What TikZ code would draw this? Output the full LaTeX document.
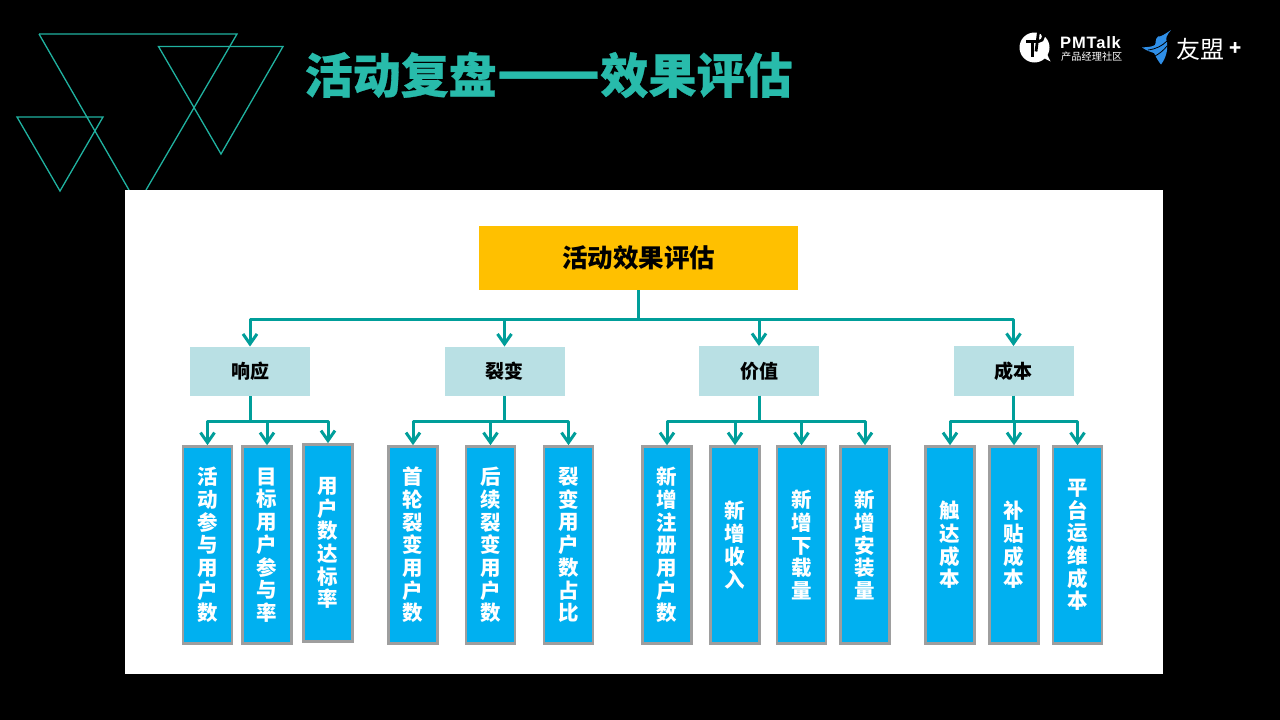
\documentclass[tikz,border=0pt]{standalone}
\usepackage{fontspec}
\setmainfont{Noto Sans CJK SC}
\newfontfamily\latinb{Liberation Sans}
\usetikzlibrary{arrows.meta}
\definecolor{teal1}{HTML}{28BBAB}
\definecolor{tril}{HTML}{20B2A0}
\definecolor{link}{HTML}{009E9A}
\definecolor{leaf}{HTML}{00B0F0}
\definecolor{midbox}{HTML}{B9E0E4}
\definecolor{rootbox}{HTML}{FFC000}
\definecolor{bird}{HTML}{2F8FE8}
\tikzset{
  tri/.style={draw=tril,line width=1.3pt,line join=miter},
  rootnode/.style={fill=rootbox,minimum width=319pt,minimum height=64pt,inner sep=0pt,font=\fontsize{25.5}{28}\selectfont\bfseries},
  midnode/.style={fill=midbox,minimum width=120pt,minimum height=49.5pt,inner sep=0pt,font=\fontsize{19}{22}\selectfont\bfseries},
  leafnode/.style={fill=leaf,draw=black!38,line width=2.6pt,minimum width=49pt,minimum height=197pt,inner sep=0pt,text=white,align=center,font=\fontsize{20.5}{22.7}\selectfont\bfseries},
  arr/.style={draw=link,line width=3pt,line join=round,-{Straight Barb[length=10pt,width=14pt,line width=3pt]}},
}
\begin{document}
\begin{tikzpicture}[x=1pt,y=-1pt]
\useasboundingbox (0,0) rectangle (1280,720);
\fill[black] (0,0) rectangle (1280,720);
% triangles
\draw[tri] (39,34) -- (237,34) -- (146,190);
\draw[tri] (39,34) -- (129,190);
\draw[tri] (158.5,46.5) -- (283,46.5) -- (221,154) -- cycle;
\draw[tri] (17,117) -- (103,117) -- (60,191) -- cycle;
% title
\node[anchor=west,inner sep=0pt,text=teal1,font=\fontsize{48}{52}\selectfont\bfseries] (title) at (304.5,75) {\addfontfeature{FakeBold=0.6}活动复盘\scalebox{1.26}[1.3]{——}效果评估};
% logo PMTalk
\fill[white] (1034.5,47.5) circle (15);
\fill[white] (1040,56) -- (1050.5,61.5) -- (1046,52) -- cycle;
\draw[black,line width=2.8pt] (1026,41.5) -- (1038.5,41.5) arc (90:-90:5) -- (1036,51.5);
\draw[black,line width=3.2pt] (1032.5,41.5) -- (1032.5,56.5);
\node[anchor=west,inner sep=0pt,text=white,font=\latinb\fontsize{16.5}{18}\selectfont\bfseries] (pmt) at (1060,43) {\addfontfeature{LetterSpace=5}PMTalk};
\node[anchor=west,inner sep=0pt,text=white,font=\fontsize{10.2}{12}\selectfont] (pmsub) at (1061,57) {产品经理社区};
% logo bird
\fill[bird] (1171,30) .. controls (1165,34) and (1161,37) .. (1158,36.5) .. controls (1155,39) and (1156,43) .. (1155,45)
  .. controls (1152,47) and (1147,47) .. (1142,47.5) .. controls (1147,51) and (1151,52) .. (1154,53)
  .. controls (1156,57) and (1158,61) .. (1161,64.5) .. controls (1166,58) and (1168,50) .. (1167,42)
  .. controls (1165,38) and (1167,35) .. (1171,30) -- cycle;
\draw[black,line width=0.8pt] (1148,50) .. controls (1156,49) and (1162,46) .. (1167,41);
\draw[black,line width=0.8pt] (1155,56) .. controls (1159,54) and (1164,50) .. (1167,46);
\node[anchor=west,inner sep=0pt,text=white,font=\fontsize{24}{26}\selectfont] (ym) at (1176,49) {友盟};
\node[anchor=center,inner sep=0pt,text=white,font=\fontsize{20}{22}\selectfont\bfseries] (plus) at (1236,49) {+};
% white panel
\fill[white] (125,190) rectangle (1163,674);
% level 1
\node[rootnode] (root) at (638.5,258) {\raisebox{-1pt}{活动效果评估}};
% level 2
\node[midnode] (m1) at (250,371.5) {响应};
\node[midnode] (m2) at (504.5,371.5) {裂变};
\node[midnode] (m3) at (759,371) {价值};
\node[midnode] (m4) at (1013.5,371) {成本};
% level 3
\node[leafnode] (a1) at (207.5,545) {活\\动\\参\\与\\用\\户\\数};
\node[leafnode] (a2) at (267,545) {目\\标\\用\\户\\参\\与\\率};
\node[leafnode] (a3) at (328,543) {用\\户\\数\\达\\标\\率};
\node[leafnode] (b1) at (413,545) {首\\轮\\裂\\变\\用\\户\\数};
\node[leafnode] (b2) at (490.5,545) {后\\续\\裂\\变\\用\\户\\数};
\node[leafnode] (b3) at (568.5,545) {裂\\变\\用\\户\\数\\占\\比};
\node[leafnode] (c1) at (667,545) {新\\增\\注\\册\\用\\户\\数};
\node[leafnode] (c2) at (735,545) {新\\增\\收\\入};
\node[leafnode] (c3) at (801.5,545) {新\\增\\下\\载\\量};
\node[leafnode] (c4) at (865,545) {新\\增\\安\\装\\量};
\node[leafnode] (d1) at (950,545) {触\\达\\成\\本};
\node[leafnode] (d2) at (1014,545) {补\\贴\\成\\本};
\node[leafnode] (d3) at (1077.5,545) {平\\台\\运\\维\\成\\本};
% connectors
\foreach \c in {m1,m2,m3,m4}{\draw[arr] (root.south) -- ++(0,29) -| (\c.north);}
\foreach \c in {a1,a2,a3}{\draw[arr] (m1.south) -- ++(0,25) -| (\c.north);}
\foreach \c in {b1,b2,b3}{\draw[arr] (m2.south) -- ++(0,25) -| (\c.north);}
\foreach \c in {c1,c2,c3,c4}{\draw[arr] (m3.south) -- ++(0,25.5) -| (\c.north);}
\foreach \c in {d1,d2,d3}{\draw[arr] (m4.south) -- ++(0,25.5) -| (\c.north);}
\end{tikzpicture}
\end{document}
